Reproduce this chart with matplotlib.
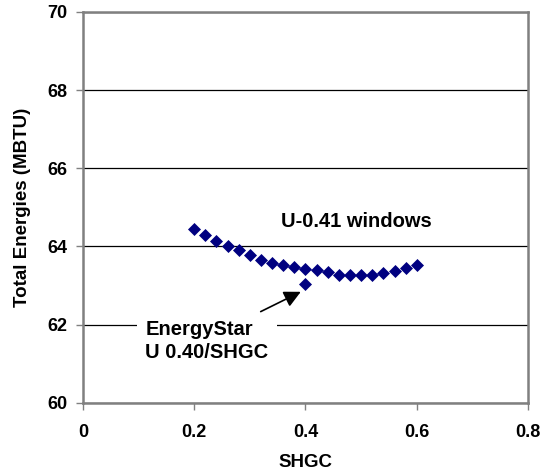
import matplotlib.pyplot as plt

# U-0.41 windows series
shgc = [0.20, 0.22, 0.24, 0.26, 0.28, 0.30, 0.32, 0.34, 0.36, 0.38, 0.40,
        0.42, 0.44, 0.46, 0.48, 0.50, 0.52, 0.54, 0.56, 0.58, 0.60]
total_energy = [64.45, 64.29, 64.15, 64.02, 63.90, 63.77, 63.66, 63.58, 63.52, 63.47, 63.43,
                63.39, 63.35, 63.28, 63.27, 63.26, 63.28, 63.32, 63.38, 63.44, 63.52]

# EnergyStar point
star_shgc = [0.40]
star_energy = [63.05]

x_ticks = [0, 0.2, 0.4, 0.6, 0.8]
y_ticks = [60, 62, 64, 66, 68, 70]

plt.rcParams['font.family'] = ['Liberation Sans', 'DejaVu Sans']
plt.rcParams['font.weight'] = 'bold'

fig = plt.figure(figsize=(5.47, 4.72), dpi=100)
ax = fig.add_axes([0.1517, 0.1468, 0.8136, 0.8278])

navy = '#000080'
ax.scatter(shgc, total_energy, marker='D', s=44, color=navy, zorder=3, linewidths=0)
ax.scatter(star_shgc, star_energy, marker='D', s=44, color=navy, zorder=3, linewidths=0)

ax.set_xlim(0, 0.8)
ax.set_ylim(60, 70)
ax.set_xticks(x_ticks)
ax.set_xticklabels(['0', '0.2', '0.4', '0.6', '0.8'])
ax.set_yticks(y_ticks)
ax.tick_params(labelsize=13, direction='out', length=5, width=1, color='#808080')
ax.tick_params(axis='x', pad=10)
ax.tick_params(axis='y', pad=6)
for lab in ax.get_xticklabels() + ax.get_yticklabels():
    lab.set_fontweight('bold')

ax.yaxis.grid(True, color='black', linewidth=0.9)
ax.set_axisbelow(True)
for s in ax.spines.values():
    s.set_color('#808080')
    s.set_linewidth(1.8)

ax.set_xlabel('SHGC', fontsize=13.5, fontweight='bold', labelpad=10)
ax.set_ylabel('Total Energies (MBTU)', fontsize=13.5, fontweight='bold', labelpad=12)

ax.text(0.356, 64.63, 'U-0.41 windows', fontsize=14.5, fontweight='bold', va='center', ha='left')
ax.text(0.112, 61.58, 'EnergyStar\nU 0.40/SHGC', fontsize=14.5, fontweight='bold',
        va='center', ha='left', linespacing=1.3,
        bbox=dict(facecolor='white', edgecolor='none', pad=6))
ax.annotate('', xy=(0.396, 62.87), xytext=(0.315, 62.30),
            arrowprops=dict(arrowstyle='-|>,head_length=1.0,head_width=0.5', color='black', lw=1.2))

fig.savefig('out.png', dpi=100)
